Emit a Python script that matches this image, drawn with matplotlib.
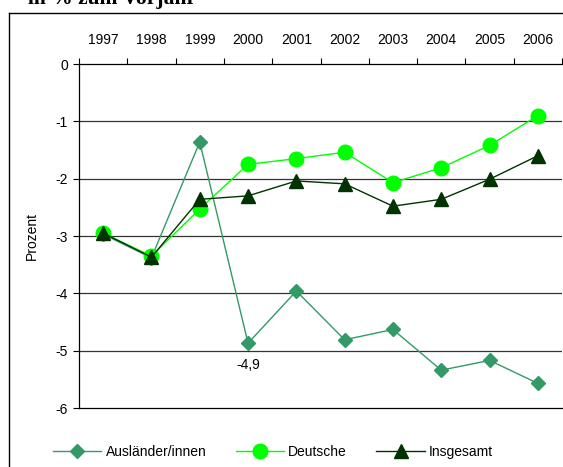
import matplotlib
matplotlib.use("Agg")
import matplotlib.pyplot as plt
from matplotlib.lines import Line2D

plt.rcParams['font.family'] = ['Liberation Sans', 'DejaVu Sans']

years = ['1997', '1998', '1999', '2000', '2001', '2002', '2003', '2004', '2005', '2006']
auslaender = [-2.97, -3.38, -1.36, -4.87, -3.96, -4.81, -4.63, -5.34, -5.17, -5.57]
deutsche = [-2.95, -3.35, -2.53, -1.75, -1.65, -1.54, -2.07, -1.81, -1.42, -0.90]
insgesamt = [-2.95, -3.37, -2.36, -2.30, -2.04, -2.09, -2.48, -2.36, -2.01, -1.60]
yticks = [0, -1, -2, -3, -4, -5, -6]
title = "in % zum Vorjahr"
ylabel = "Prozent"
annot_text = "-4,9"

W, H = 563, 467
fig = plt.figure(figsize=(W / 100, H / 100), dpi=100)
ax = fig.add_axes([79 / W, 1 - 408 / H, (562 - 79) / W, (408 - 64) / H])

x = list(range(len(years)))
c_aus, c_de, c_ins = '#339966', '#00FF00', '#003300'
l1, = ax.plot(x, auslaender, color=c_aus, lw=1.0, marker='D', ms=7.5, zorder=3, label='Ausländer/innen')
l2, = ax.plot(x, deutsche, color=c_de, lw=1.0, marker='o', ms=10.5, zorder=4, label='Deutsche')
l3, = ax.plot(x, insgesamt, color=c_ins, lw=1.0, marker='^', ms=10.5, zorder=5, label='Insgesamt')

ax.set_xlim(-0.5, len(years) - 0.5)
ax.set_ylim(-6, 0)

for v in yticks[1:-1]:
    ax.axhline(v, color='#333333', lw=0.9, zorder=1)

ax.set_yticks(yticks)
ax.set_yticklabels([str(v) for v in yticks], fontsize=10)
ax.tick_params(axis='y', direction='out', length=4, width=0.8, pad=4, color='black')

ax.xaxis.tick_top()
ax.set_xticks([i - 0.5 for i in range(len(years) + 1)])
ax.set_xticklabels([])
ax.tick_params(axis='x', which='major', direction='out', length=4, width=0.8, top=True, bottom=False)
ax.set_xticks(x, minor=True)
ax.set_xticklabels(years, minor=True, fontsize=10)
ax.tick_params(axis='x', which='minor', length=0, pad=12, top=True, bottom=False,
               labeltop=True, labelbottom=False)

ax.spines['right'].set_visible(False)
for s in ['top', 'left', 'bottom']:
    ax.spines[s].set_linewidth(0.9)

ax.set_ylabel(ylabel, fontsize=10, labelpad=12)

ax.annotate(annot_text, xy=(3, auslaender[3]), xytext=(0, -16), textcoords='offset points',
            ha='center', va='center', fontsize=10)

fig.legend(handles=[l1, l2, l3], loc='center', ncol=3, frameon=False, fontsize=10,
           bbox_to_anchor=(273 / W, 1 - 452 / H), handlelength=3.5, columnspacing=2.1,
           handletextpad=0.3)

# outer chart frame (partially visible)
fig.add_artist(Line2D([9 / W, 9 / W], [0, 1 - 13 / H], transform=fig.transFigure, color='black', lw=1.0))
fig.add_artist(Line2D([9 / W, 1.0], [1 - 13 / H, 1 - 13 / H], transform=fig.transFigure, color='black', lw=1.0))

fig.text(28 / W, 1 - 4 / H, title, fontsize=15.5, fontweight='bold', family='Liberation Serif',
         ha='left', va='baseline')

fig.savefig('out.png', dpi=100)
